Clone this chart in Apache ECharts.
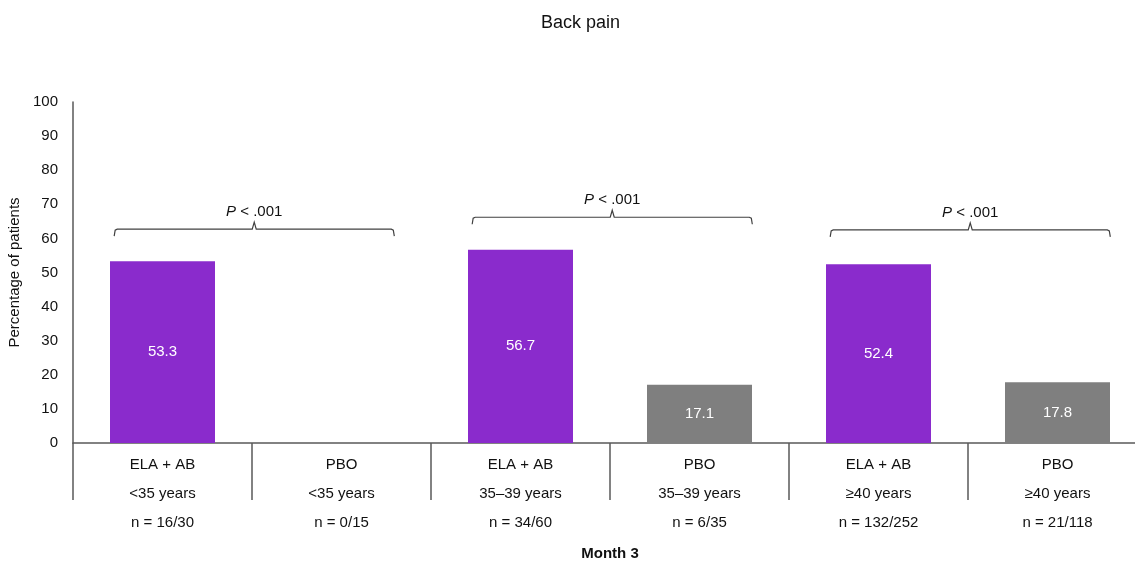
<!DOCTYPE html>
<html>
<head>
<meta charset="utf-8">
<script src="https://cdn.jsdelivr.net/npm/echarts@6/dist/echarts.min.js"></script>
<style>
html,body{margin:0;padding:0;background:#fff;}
#chart{width:1135px;height:561px;}
</style>
</head>
<body>
<div id="chart"></div>
<script>
// ---- data ----
var treatments = ['ELA + AB', 'PBO', 'ELA + AB', 'PBO', 'ELA + AB', 'PBO'];
var ageGroups = ['<35 years', '<35 years', '35\u201339 years', '35\u201339 years', '\u226540 years', '\u226540 years'];
var nCounts = ['n = 16/30', 'n = 0/15', 'n = 34/60', 'n = 6/35', 'n = 132/252', 'n = 21/118'];
var percentages = [53.3, 0, 56.7, 17.1, 52.4, 17.8];
var yTicks = [0, 10, 20, 30, 40, 50, 60, 70, 80, 90, 100];
// brackets: [start category index, end category index, bracket level (%)]
var bracketStart = [0, 2, 4];
var bracketEnd = [1, 3, 5];
var bracketLevel = [62.7, 66.2, 62.5];
var bracketText = ['P < .001', 'P < .001', 'P < .001'];

var PURPLE = '#8A2BCC';
var GRAY = '#7F7F7F';
var AXIS = '#595959';
var FONT = 'Liberation Sans, Arial, sans-serif';

var categories = treatments.map(function (t, i) {
  return t + '\n' + ageGroups[i] + '\n' + nCounts[i];
});
var barData = percentages.map(function (v, i) {
  return { value: v, itemStyle: { color: treatments[i] === 'PBO' ? GRAY : PURPLE } };
});
var bracketData = bracketStart.map(function (s, i) {
  return [s, bracketEnd[i], bracketLevel[i], i];
});

var chart = echarts.init(document.getElementById('chart'), null, { renderer: 'canvas' });
chart.setOption({
  animation: false,
  backgroundColor: '#fff',
  textStyle: { fontFamily: FONT },
  title: {
    text: 'Back pain',
    left: 536,
    top: 9,
    textStyle: { fontFamily: FONT, fontSize: 18, fontWeight: 'normal', color: '#111' }
  },
  grid: { left: 73, width: 1074, top: 102, height: 341, containLabel: false, outerBoundsMode: 'none' },
  xAxis: {
    type: 'category',
    data: categories,
    name: 'Month 3',
    nameLocation: 'middle',
    nameGap: 103,
    nameTextStyle: { fontFamily: FONT, fontSize: 15, fontWeight: 'bold', color: '#111', verticalAlign: 'top' },
    axisLine: { show: true, lineStyle: { color: AXIS, width: 1.5 } },
    axisTick: { show: true, length: 57, alignWithLabel: false, lineStyle: { color: AXIS, width: 1.5 } },
    axisLabel: { interval: 0, fontFamily: FONT, fontSize: 15, color: '#111', lineHeight: 29, margin: 7 },
    splitLine: { show: false }
  },
  yAxis: {
    type: 'value',
    min: yTicks[0],
    max: yTicks[yTicks.length - 1],
    interval: yTicks[1] - yTicks[0],
    name: 'Percentage of patients',
    nameLocation: 'middle',
    nameRotate: 90,
    nameGap: 44,
    nameTextStyle: { fontFamily: FONT, fontSize: 15, color: '#111' },
    axisLine: { show: true, lineStyle: { color: AXIS, width: 1.5 } },
    axisTick: { show: false },
    axisLabel: { fontFamily: FONT, fontSize: 15, color: '#111', margin: 15 },
    splitLine: { show: false }
  },
  series: [
    {
      type: 'bar',
      data: barData,
      barWidth: 105,
      label: {
        show: true,
        position: 'inside',
        fontFamily: FONT,
        fontSize: 15,
        color: '#fff',
        formatter: function (p) { return p.value > 0 ? p.value.toFixed(1) : ''; }
      }
    },
    {
      type: 'custom',
      data: bracketData,
      encode: { x: [0, 1], y: 2 },
      silent: true,
      z: 5,
      renderItem: function (params, api) {
        var s = api.value(0), e = api.value(1), lvl = api.value(2);
        var band = api.size([1, 0])[0];
        var p1 = api.coord([s, lvl]);
        var p2 = api.coord([e, lvl]);
        var x1 = p1[0] - 0.27 * band;
        var x2 = p2[0] + 0.295 * band;
        var y = p1[1];
        var xm = (x1 + x2) / 2;
        var drop = 7, notch = 7;
        var style = { stroke: '#404040', lineWidth: 1.2, fill: null };
        return {
          type: 'group',
          children: [
            { type: 'polyline', shape: { points: [[x1, y + drop], [x1 + 1, y + 1], [x1 + 3, y], [xm - 2, y], [xm, y - notch], [xm + 2, y], [x2 - 3, y], [x2 - 1, y + 1], [x2, y + drop]] }, style: style },
            {
              type: 'text',
              x: xm,
              y: y - 17,
              style: {
                text: '{i|P} < .001',
                align: 'center',
                verticalAlign: 'middle',
                fontFamily: FONT,
                fontSize: 15,
                fill: '#111',
                rich: { i: { fontStyle: 'italic', fontFamily: FONT, fontSize: 15, fill: '#111' } }
              }
            }
          ]
        };
      }
    }
  ]
});
</script>
</body>
</html>
